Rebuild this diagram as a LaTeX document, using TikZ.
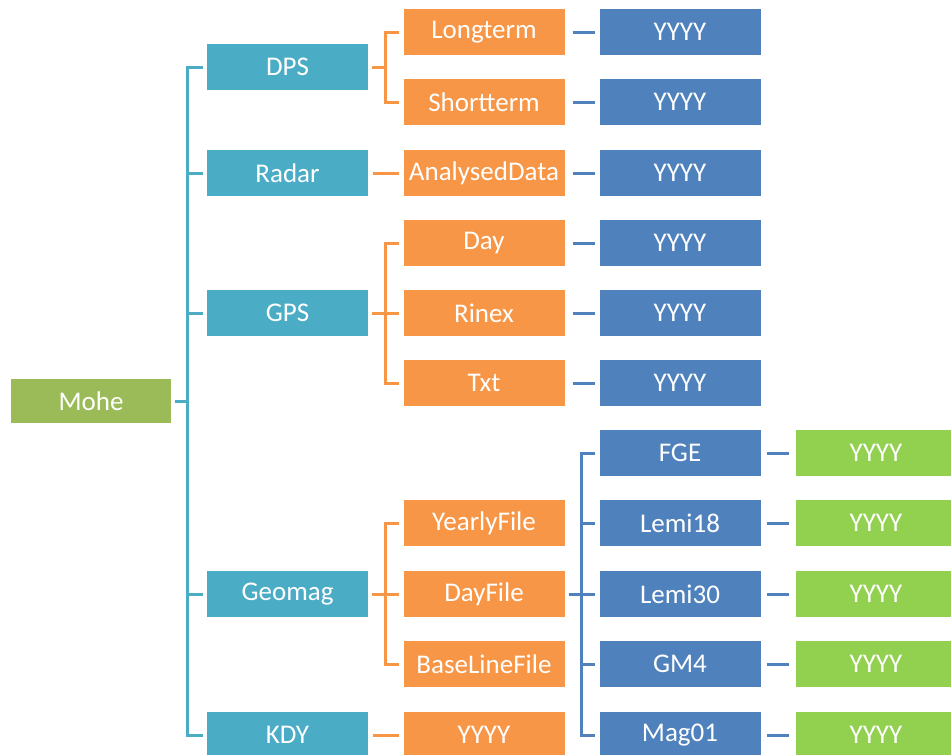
\documentclass[tikz,border=0pt]{standalone}
\usepackage{fontspec}
\setmainfont{Carlito}
\begin{document}
\definecolor{cAqua}{HTML}{4BACC6}
\definecolor{cOrange}{HTML}{F79646}
\definecolor{cBlue}{HTML}{4F81BD}
\definecolor{cOlive}{HTML}{9BBB59}
\definecolor{cLime}{HTML}{92D050}
\begin{tikzpicture}[x=1pt,y=-1pt,
  box/.style={minimum width=161pt,minimum height=46pt,inner sep=0pt,
    text=white,font=\fontsize{27}{27}\selectfont},
  rootbox/.style={box,fill=cOlive,minimum width=160pt,minimum height=44pt},
  aquabox/.style={box,fill=cAqua},
  orangebox/.style={box,fill=cOrange},
  bluebox/.style={box,fill=cBlue},
  limebox/.style={box,fill=cLime},
  link/.style={line width=3pt},
  aqualink/.style={link,draw=cAqua},
  orangelink/.style={link,draw=cOrange},
  bluelink/.style={link,draw=cBlue}]
\useasboundingbox (0,0) rectangle (951,755);
\clip (0,0) rectangle (951,755);

% root
\node[rootbox] (mohe) at (91,401) {Mohe};

% first level
\node[aquabox] (dps)    at (287.5,67)  {DPS};
\node[aquabox] (radar)  at (287.5,173) {Radar};
\node[aquabox] (gps)    at (287.5,313) {GPS};
\node[aquabox] (geomag) at (287.5,594) {Geomag};
\node[aquabox] (kdy)    at (287.5,735) {KDY};

% second level
\node[orangebox] (longterm)  at (484,32)  {Longterm};
\node[orangebox] (shortterm) at (484,102) {Shortterm};
\node[orangebox] (analysed)  at (484,173) {AnalysedData};
\node[orangebox] (day)       at (484,243) {Day};
\node[orangebox] (rinex)     at (484,313) {Rinex};
\node[orangebox] (txt)       at (484,383) {Txt};
\node[orangebox] (yearly)    at (484,523) {YearlyFile};
\node[orangebox] (dayfile)   at (484,594) {DayFile};
\node[orangebox] (baseline)  at (484,664) {BaseLineFile};
\node[orangebox] (kdyy)      at (484,735) {YYYY};

% third level
\node[bluebox] (ylong)  at (680,32)  {YYYY};
\node[bluebox] (yshort) at (680,102) {YYYY};
\node[bluebox] (yanal)  at (680,173) {YYYY};
\node[bluebox] (yday)   at (680,243) {YYYY};
\node[bluebox] (yrinex) at (680,313) {YYYY};
\node[bluebox] (ytxt)   at (680,383) {YYYY};
\node[bluebox] (fge)    at (680,453) {FGE};
\node[bluebox] (lemia)  at (680,523) {Lemi18};
\node[bluebox] (lemib)  at (680,594) {Lemi30};
\node[bluebox] (gm)     at (680,664) {GM4};
\node[bluebox] (mag)    at (680,735) {Mag01};

% fourth level
\node[limebox] (yfge)   at (876,453) {YYYY};
\node[limebox] (ylemia) at (876,523) {YYYY};
\node[limebox] (ylemib) at (876,594) {YYYY};
\node[limebox] (ygm)    at (876,664) {YYYY};
\node[limebox] (ymag)   at (876,735) {YYYY};

% spine positions
\coordinate (s1) at (187,0);
\coordinate (s2) at (385,0);
\coordinate (s3) at (581,0);

% root to first level
\draw[aqualink,shorten <=4pt] (mohe.east) -- (mohe.east -| s1);
\draw[aqualink,shorten <=4pt,shorten >=4pt] (dps.west) -| (kdy.west -| s1) -- (kdy.west);
\foreach \n in {radar,gps,geomag}
  \draw[aqualink,shorten >=4pt] (\n.west -| s1) -- (\n.west);

% DPS
\draw[orangelink,shorten <=4pt] (dps.east) -- (dps.east -| s2);
\draw[orangelink,shorten <=4pt,shorten >=4pt] (longterm.west) -| (shortterm.west -| s2) -- (shortterm.west);
% Radar
\draw[orangelink,shorten <=5pt,shorten >=4pt] (radar.east) -- (analysed.west);
% GPS
\draw[orangelink,shorten <=4pt] (gps.east) -- (gps.east -| s2);
\draw[orangelink,shorten <=4pt,shorten >=4pt] (day.west) -| (txt.west -| s2) -- (txt.west);
\draw[orangelink,shorten >=4pt] (rinex.west -| s2) -- (rinex.west);
% Geomag
\draw[orangelink,shorten <=4pt] (geomag.east) -- (geomag.east -| s2);
\draw[orangelink,shorten <=4pt,shorten >=4pt] (yearly.west) -| (baseline.west -| s2) -- (baseline.west);
\draw[orangelink,shorten >=4pt] (dayfile.west -| s2) -- (dayfile.west);
% KDY
\draw[orangelink,shorten <=5pt,shorten >=4pt] (kdy.east) -- (kdyy.west);

% second to third level
\foreach \a/\b in {longterm/ylong,shortterm/yshort,analysed/yanal,day/yday,rinex/yrinex,txt/ytxt}
  \draw[bluelink,shorten <=8pt,shorten >=4pt] (\a.east) -- (\b.west);

% DayFile
\draw[bluelink,shorten <=4pt] (dayfile.east) -- (dayfile.east -| s3);
\draw[bluelink,shorten <=4pt,shorten >=4pt] (fge.west) -| (mag.west -| s3) -- (mag.west);
\foreach \n in {lemia,lemib,gm}
  \draw[bluelink,shorten >=4pt] (\n.west -| s3) -- (\n.west);

% third to fourth level
\foreach \a/\b in {fge/yfge,lemia/ylemia,lemib/ylemib,gm/ygm,mag/ymag}
  \draw[bluelink,shorten <=6pt,shorten >=6pt] (\a.east) -- (\b.west);
\end{tikzpicture}
\end{document}
